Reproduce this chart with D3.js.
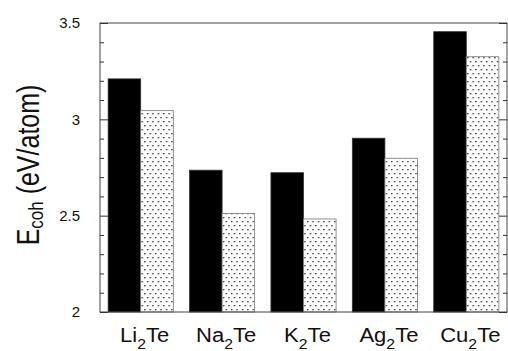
<!DOCTYPE html>
<html>
<head>
<meta charset="utf-8">
<script src="https://cdn.jsdelivr.net/npm/d3@7"></script>
<style>
  body { margin: 0; background: #fff; }
  text { font-family: "Liberation Sans", Arial, Helvetica, sans-serif; fill: #111; }
</style>
</head>
<body>
<div id="chart"></div>
<script>
// compounds and cohesive energies (eV/atom)
var compounds = ["Li", "Na", "K", "Ag", "Cu"];
var seriesNames = ["solid", "dotted"];
var solidValues = [3.21, 2.736, 2.723, 2.902, 3.455];
var dottedValues = [3.045, 2.512, 2.483, 2.798, 3.325];
var majorTicks = [2, 2.5, 3, 3.5];
var minorTicks = [2.1, 2.2, 2.3, 2.4, 2.6, 2.7, 2.8, 2.9, 3.1, 3.2, 3.3, 3.4];

var w = 508, h = 351;
var plotLeft = 100, plotRight = 507, plotTop = 23, plotBottom = 312;

var svg = d3.select("#chart")
    .append("svg")
    .attr("width", w)
    .attr("height", h);

var defs = svg.append("defs");
var pat = defs.append("pattern")
    .attr("id", "dots")
    .attr("patternUnits", "userSpaceOnUse")
    .attr("width", 5.4)
    .attr("height", 8);
pat.append("rect").attr("width", 5.4).attr("height", 8).attr("fill", "#fff");
pat.append("rect").attr("x", 1).attr("y", 1).attr("width", 1.3).attr("height", 1.3).attr("fill", "#222");
pat.append("rect").attr("x", 3.7).attr("y", 5).attr("width", 1.3).attr("height", 1.3).attr("fill", "#222");

var x = d3.scaleBand()
    .domain(compounds)
    .range([plotLeft, plotRight])
    .paddingInner(0.2)
    .paddingOuter(0.1);

var xs = d3.scaleBand()
    .domain(seriesNames)
    .range([0, x.bandwidth()]);

var y = d3.scaleLinear()
    .domain([2, 3.5])
    .range([plotBottom, plotTop]);

var rows = compounds.map(function(c, i) {
    return { name: c, values: [
        { s: "solid", v: solidValues[i] },
        { s: "dotted", v: dottedValues[i] }
    ] };
});

var groups = svg.selectAll("g.group")
    .data(rows)
    .enter()
    .append("g")
    .attr("class", "group")
    .attr("transform", function(d) { return "translate(" + x(d.name) + ",0)"; });

groups.selectAll("rect")
    .data(function(d) { return d.values; })
    .enter()
    .append("rect")
    .attr("x", function(d) { return xs(d.s); })
    .attr("y", function(d) { return y(d.v); })
    .attr("width", xs.bandwidth())
    .attr("height", function(d) { return y(2) - y(d.v); })
    .attr("fill", function(d) { return d.s === "solid" ? "#000" : "url(#dots)"; })
    .attr("stroke", function(d) { return d.s === "solid" ? "#333" : "#777"; })
    .attr("stroke-width", 0.8);

// frame
svg.append("rect")
    .attr("x", plotLeft)
    .attr("y", plotTop)
    .attr("width", plotRight - plotLeft)
    .attr("height", plotBottom - plotTop)
    .attr("fill", "none")
    .attr("stroke", "#444")
    .attr("stroke-width", 1);

// left axis, ticks pointing in
var leftMajor = svg.append("g")
    .attr("transform", "translate(" + plotLeft + ",0)")
    .call(d3.axisLeft(y).tickValues(majorTicks).tickSize(-8).tickPadding(20)
        .tickFormat(function(d) { return d3.format("")(d); }));
leftMajor.select(".domain").remove();
leftMajor.selectAll("text")
    .attr("font-size", "15px")
    .attr("font-family", "Liberation Sans, Arial, sans-serif");

var leftMinor = svg.append("g")
    .attr("transform", "translate(" + plotLeft + ",0)")
    .call(d3.axisLeft(y).tickValues(minorTicks).tickSize(-4).tickFormat(""));
leftMinor.select(".domain").remove();

var rightMajor = svg.append("g")
    .attr("transform", "translate(" + plotRight + ",0)")
    .call(d3.axisRight(y).tickValues(majorTicks).tickSize(-8).tickFormat(""));
rightMajor.select(".domain").remove();

var rightMinor = svg.append("g")
    .attr("transform", "translate(" + plotRight + ",0)")
    .call(d3.axisRight(y).tickValues(minorTicks).tickSize(-4).tickFormat(""));
rightMinor.select(".domain").remove();

svg.selectAll(".tick line").attr("stroke", "#333");

// x labels with subscript 2, slightly widened like the scanned figure
var xAxis = svg.append("g")
    .attr("transform", "translate(0," + plotBottom + ")")
    .call(d3.axisBottom(x).tickSize(0).tickPadding(0).tickFormat(""));
xAxis.select(".domain").remove();
xAxis.selectAll(".tick").append("text")
    .attr("transform", "translate(4,30) scale(1.13,1)")
    .attr("text-anchor", "middle")
    .attr("font-size", "19.5px")
    .attr("fill", "#111")
    .each(function(d) {
        var t = d3.select(this);
        t.append("tspan").text(d);
        t.append("tspan").text("2").attr("font-size", "14px").attr("dy", 7);
        t.append("tspan").text("Te").attr("dy", -7);
    });

// y axis label
var yl = svg.append("text")
    .attr("transform", "translate(38.5," + 165 + ") rotate(-90) scale(1,1.22)")
    .attr("text-anchor", "middle")
    .attr("font-size", "25px");
yl.append("tspan").text("E");
yl.append("tspan").text("coh").attr("font-size", "17px").attr("dy", 4);
yl.append("tspan").text(" (eV/atom)").attr("dy", -4);
</script>
</body>
</html>
